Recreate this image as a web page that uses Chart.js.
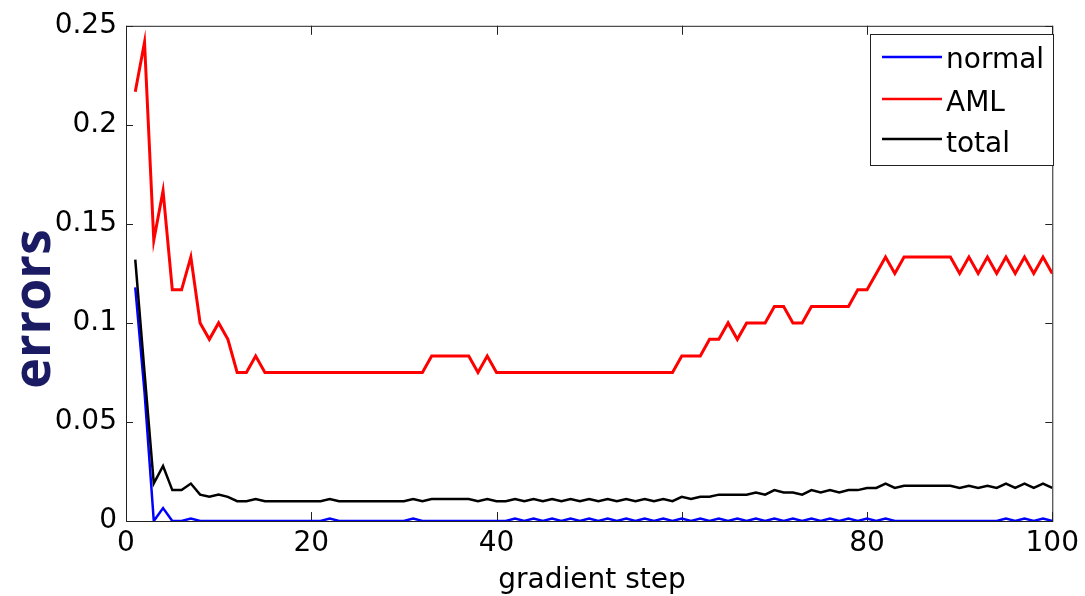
<!DOCTYPE html>
<html>
<head>
<meta charset="utf-8">
<script src="https://cdn.jsdelivr.net/npm/chart.js@4.4.1/dist/chart.umd.min.js"></script>
<style>
  html, body { margin: 0; padding: 0; background: #fff; }
  #wrap { width: 1085px; height: 596px; position: relative; }
</style>
</head>
<body>
<div id="wrap"><canvas id="myChart"></canvas></div>
<script>
// gradient steps 1..100
var steps = Array.from({ length: 100 }, (_, i) => i + 1);
var xTicks = [0, 20, 40, 60, 80, 100];
var xTickLabels = ["0", "20", "40", "", "80", "100"];
var yTicks = [0, 0.05, 0.1, 0.15, 0.2, 0.25];
var yTickLabels = ["0", "0.05", "0.1", "0.15", "0.2", "0.25"];
var seriesNames = ["normal", "AML", "total"];

var normalErr = [
  0.118, 0.065, 0, 0.0065, 0, 0, 0.0013, 0, 0, 0,
  0, 0, 0, 0, 0, 0, 0, 0, 0, 0,
  0, 0.0013, 0, 0, 0, 0, 0, 0, 0, 0,
  0.0013, 0, 0, 0, 0, 0, 0, 0, 0, 0,
  0, 0.0013, 0, 0.0013, 0, 0.0013, 0, 0.0013, 0, 0.0013,
  0, 0.0013, 0, 0.0013, 0, 0.0013, 0, 0.0013, 0, 0.0013,
  0, 0.0013, 0, 0.0013, 0, 0.0013, 0, 0.0013, 0, 0.0013,
  0, 0.0013, 0, 0.0013, 0, 0.0013, 0, 0.0013, 0, 0.0013,
  0, 0.0013, 0, 0, 0, 0, 0, 0, 0, 0,
  0, 0, 0, 0, 0.0013, 0, 0.0013, 0, 0.0013, 0
];

var amlErr = [
  0.2167, 0.2417, 0.1417, 0.1667, 0.1167, 0.1167, 0.1333, 0.1, 0.0917, 0.1,
  0.0917, 0.075, 0.075, 0.0833, 0.075, 0.075, 0.075, 0.075, 0.075, 0.075,
  0.075, 0.075, 0.075, 0.075, 0.075, 0.075, 0.075, 0.075, 0.075, 0.075,
  0.075, 0.075, 0.0833, 0.0833, 0.0833, 0.0833, 0.0833, 0.075, 0.0833, 0.075,
  0.075, 0.075, 0.075, 0.075, 0.075, 0.075, 0.075, 0.075, 0.075, 0.075,
  0.075, 0.075, 0.075, 0.075, 0.075, 0.075, 0.075, 0.075, 0.075, 0.0833,
  0.0833, 0.0833, 0.0917, 0.0917, 0.1, 0.0917, 0.1, 0.1, 0.1, 0.1083,
  0.1083, 0.1, 0.1, 0.1083, 0.1083, 0.1083, 0.1083, 0.1083, 0.1167, 0.1167,
  0.125, 0.1333, 0.125, 0.1333, 0.1333, 0.1333, 0.1333, 0.1333, 0.1333, 0.125,
  0.1333, 0.125, 0.1333, 0.125, 0.1333, 0.125, 0.1333, 0.125, 0.1333, 0.125
];

var totalErr = [
  0.132, 0.075, 0.019, 0.0278, 0.0156, 0.0156, 0.0189, 0.0133, 0.0122, 0.0133,
  0.0122, 0.01, 0.01, 0.0111, 0.01, 0.01, 0.01, 0.01, 0.01, 0.01,
  0.01, 0.0111, 0.01, 0.01, 0.01, 0.01, 0.01, 0.01, 0.01, 0.01,
  0.0111, 0.01, 0.0111, 0.0111, 0.0111, 0.0111, 0.0111, 0.01, 0.0111, 0.01,
  0.01, 0.0111, 0.01, 0.0111, 0.01, 0.0111, 0.01, 0.0111, 0.01, 0.0111,
  0.01, 0.0111, 0.01, 0.0111, 0.01, 0.0111, 0.01, 0.0111, 0.01, 0.0122,
  0.0111, 0.0122, 0.0122, 0.0133, 0.0133, 0.0133, 0.0133, 0.0144, 0.0133, 0.0156,
  0.0144, 0.0144, 0.0133, 0.0156, 0.0144, 0.0156, 0.0144, 0.0156, 0.0156, 0.0167,
  0.0167, 0.0189, 0.0167, 0.0178, 0.0178, 0.0178, 0.0178, 0.0178, 0.0178, 0.0167,
  0.0178, 0.0167, 0.0178, 0.0167, 0.0189, 0.0167, 0.0189, 0.0167, 0.0189, 0.0167
];

function pairs(vals) {
  return steps.map((s, i) => ({ x: s, y: vals[i] }));
}

var tickFont = { family: "DejaVu Sans", size: 28 };

// frame box with inward ticks, drawn under the lines (matlab style)
var framePlugin = {
  id: "frame",
  beforeDatasetsDraw(chart) {
    const { ctx, chartArea: a, scales } = chart;
    ctx.save();
    ctx.strokeStyle = "#222";
    ctx.lineWidth = 1;
    ctx.strokeRect(a.left + 0.5, a.top + 0.5, a.right - a.left, a.bottom - a.top);
    ctx.beginPath();
    xTicks.forEach(v => {
      const px = Math.round(scales.x.getPixelForValue(v)) + 0.5;
      ctx.moveTo(px, a.bottom); ctx.lineTo(px, a.bottom - 9);
      ctx.moveTo(px, a.top); ctx.lineTo(px, a.top + 9);
    });
    yTicks.forEach(v => {
      const py = Math.round(scales.y.getPixelForValue(v)) + 0.5;
      ctx.moveTo(a.left, py); ctx.lineTo(a.left + 7, py);
      ctx.moveTo(a.right, py); ctx.lineTo(a.right - 7, py);
    });
    ctx.stroke();
    ctx.restore();
  },
  afterDraw(chart) {
    const ctx = chart.ctx;
    ctx.save();
    // legend box
    ctx.fillStyle = "#fff";
    ctx.fillRect(870, 34, 183, 131);
    ctx.strokeStyle = "#222";
    ctx.lineWidth = 1;
    ctx.strokeRect(870.5, 34.5, 183, 131);
    const rows = [57, 99, 139];
    const bases = [68, 111, 152];
    chart.data.datasets.forEach((ds, i) => {
      ctx.strokeStyle = ds.borderColor;
      ctx.lineWidth = 2.5;
      ctx.beginPath();
      ctx.moveTo(882, rows[i]);
      ctx.lineTo(942, rows[i]);
      ctx.stroke();
      ctx.fillStyle = "#000";
      ctx.font = "28px 'DejaVu Sans'";
      ctx.textAlign = "left";
      ctx.textBaseline = "alphabetic";
      ctx.fillText(ds.label, 946, bases[i]);
    });
    // axis titles
    ctx.fillStyle = "#000";
    ctx.font = "28px 'DejaVu Sans'";
    ctx.textAlign = "center";
    ctx.fillText("gradient step", 592, 588);
    ctx.translate(50, 309);
    ctx.rotate(-Math.PI / 2);
    ctx.fillStyle = "#1b1b64";
    ctx.font = "bold 52px 'Open Sans'";
    ctx.fillText("errors", 0, 0);
    ctx.restore();
  }
};

var ctx = document.getElementById("myChart");
var chart = new Chart(ctx, {
  type: "line",
  data: {
    datasets: [
      { label: seriesNames[0], data: pairs(normalErr), borderColor: "#0000ff", borderWidth: 2.5, order: 2 },
      { label: seriesNames[1], data: pairs(amlErr), borderColor: "#ff0000", borderWidth: 3, order: 1 },
      { label: seriesNames[2], data: pairs(totalErr), borderColor: "#000000", borderWidth: 2.5, order: 0 }
    ]
  },
  options: {
    responsive: true,
    maintainAspectRatio: false,
    animation: false,
    devicePixelRatio: 1,
    layout: { padding: { top: 22, right: 26, bottom: 0, left: 0 } },
    elements: { point: { radius: 0 }, line: { tension: 0 } },
    plugins: { legend: { display: false }, tooltip: { enabled: false } },
    scales: {
      x: {
        type: "linear",
        min: 0,
        max: 100,
        grid: { display: false, drawTicks: false },
        border: { display: false },
        afterFit: s => { s.height = 75; },
        afterBuildTicks: s => { s.ticks = xTicks.map(v => ({ value: v })); },
        ticks: {
          autoSkip: false,
          maxRotation: 0,
          padding: 6,
          color: "#000",
          font: tickFont,
          callback: v => xTickLabels[xTicks.indexOf(v)]
        }
      },
      y: {
        min: 0,
        max: 0.25,
        grid: { display: false, drawTicks: false },
        border: { display: false },
        afterFit: s => { s.width = 126; },
        afterBuildTicks: s => { s.ticks = yTicks.map(v => ({ value: v })); },
        ticks: {
          padding: 9,
          color: "#000",
          font: tickFont,
          callback: v => yTickLabels[yTicks.indexOf(v)]
        }
      }
    }
  },
  plugins: [framePlugin]
});
</script>
</body>
</html>
